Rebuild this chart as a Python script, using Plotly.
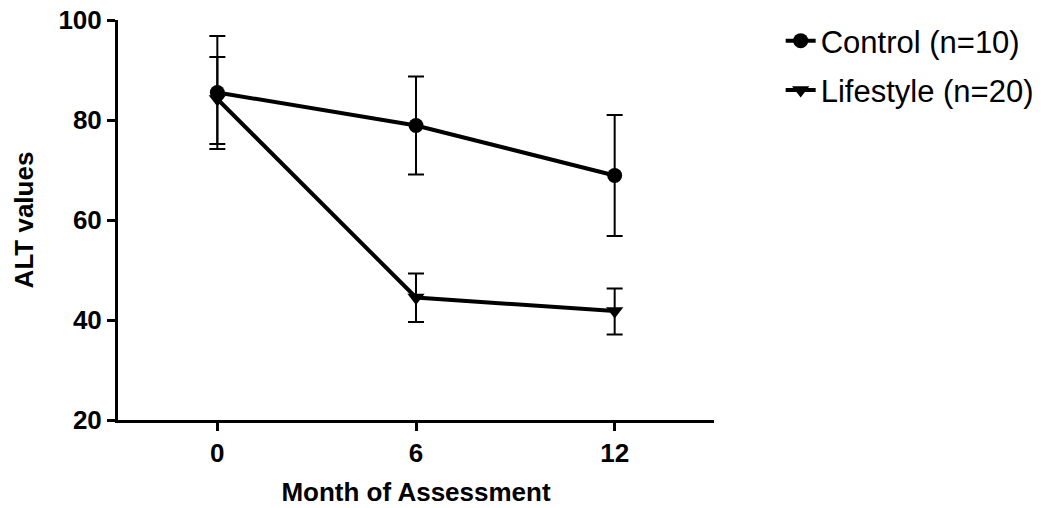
import plotly.graph_objects as go

months = [0, 6, 12]
control_mean = [85.5, 78.9, 68.9]
control_err = [11.3, 9.8, 12.1]
lifestyle_mean = [84.2, 44.5, 41.8]
lifestyle_err_plus = [8.4, 4.8, 4.5]
lifestyle_err_minus = [9.0, 4.9, 4.7]
y_ticks = [20, 40, 60, 80, 100]
x_ticks = [0, 6, 12]

fig = go.Figure()
fig.add_trace(go.Scatter(
    x=months, y=control_mean, name="Control (n=10)", mode="lines+markers",
    legendgroup="c",
    line=dict(color="black", width=4),
    marker=dict(symbol="circle", size=15, color="black"),
    error_y=dict(type="data", array=control_err, color="black", thickness=2, width=8),
))
fig.add_trace(go.Scatter(
    x=months, y=lifestyle_mean, name="Lifestyle (n=20)", mode="lines+markers",
    legendgroup="l",
    line=dict(color="black", width=4),
    marker=dict(symbol="triangle-down", size=15, color="black"),
    error_y=dict(type="data", array=lifestyle_err_plus, arrayminus=lifestyle_err_minus,
                 symmetric=False, color="black", thickness=2, width=8),
))

fig.update_layout(
    width=1050, height=508,
    margin=dict(l=118, r=335, t=20, b=88),
    paper_bgcolor="white", plot_bgcolor="white",
    showlegend=True,
    legend=dict(x=1.11, y=1.015, xanchor="left", yanchor="top",
                font=dict(family="Liberation Sans", size=31, color="black"),
                bgcolor="rgba(0,0,0,0)", traceorder="grouped", tracegroupgap=6),
    xaxis=dict(range=[-3, 15], tickvals=x_ticks, ticktext=[str(v) for v in x_ticks],
               automargin=False,
               showline=True, linecolor="black", linewidth=3, showgrid=False, zeroline=False,
               ticks="outside", ticklen=8, tickwidth=3, tickcolor="black",
               tickfont=dict(family="Liberation Sans", size=26, color="black", weight="bold"),
               title=dict(text="Month of Assessment", standoff=16,
                          font=dict(family="Liberation Sans", size=26, color="black", weight="bold"))),
    yaxis=dict(range=[20, 100], tickvals=y_ticks, automargin=False,
               showline=True, linecolor="black", linewidth=3, showgrid=False, zeroline=False,
               ticks="outside", ticklen=8, tickwidth=3, tickcolor="black",
               tickfont=dict(family="Liberation Sans", size=26, color="black", weight="bold"),
               title=dict(text="ALT values", standoff=18,
                          font=dict(family="Liberation Sans", size=26, color="black", weight="bold"))),
)
fig.write_html("out.html")
